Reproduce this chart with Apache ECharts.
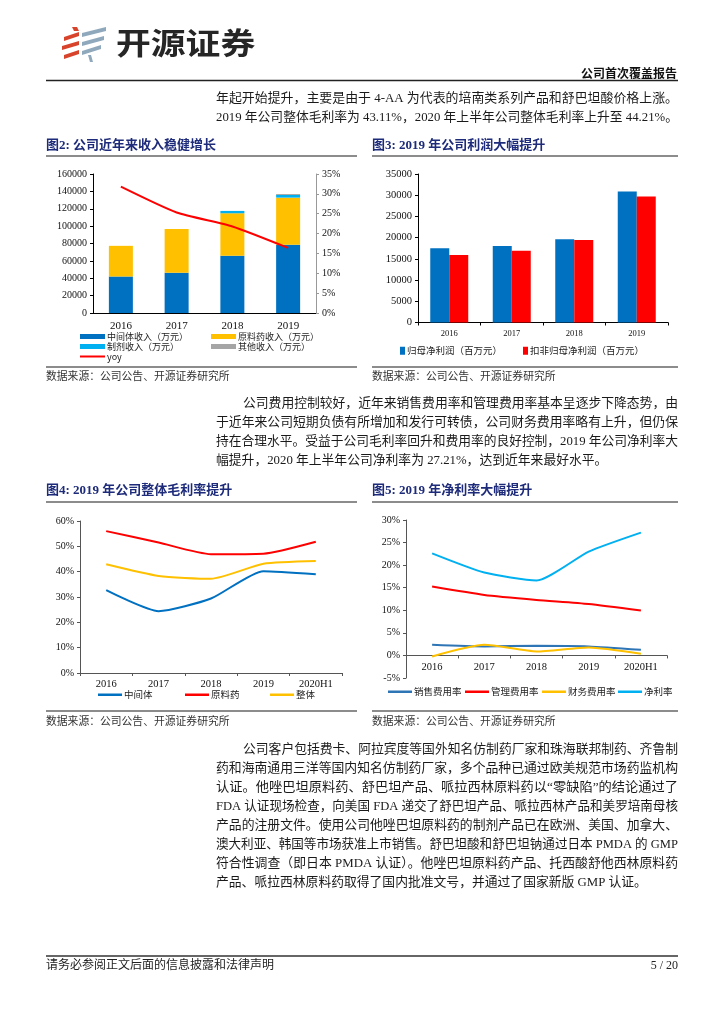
<!DOCTYPE html>
<html><head><meta charset="utf-8">
<script src="https://cdn.jsdelivr.net/npm/echarts@6/dist/echarts.min.js"></script>
<style>html,body{margin:0;padding:0;background:#fff}#c{width:724px;height:1024px}</style>
</head><body><div id="c"></div>
<script>
// ---------- data ----------
const revYears = ['2016', '2017', '2018', '2019'];
const revIntermediate = [42000, 46300, 65800, 78500];
const revAPI = [35300, 50500, 49000, 54300];
const revFormulation = [0, 0, 2700, 3100];
const revOther = [0, 0, 0, 1100];
const revYoy = [31.8, 25.3, 21.8, 16.4];

const profitYears = ['2016', '2017', '2018', '2019'];
const netProfit = [17500, 18050, 19600, 30850];
const netProfitDeducted = [15900, 16900, 19450, 29700];

const marginYears = ['2016', '2017', '2018', '2019', '2020H1'];
const marginIntermediate = [32.7, 24.4, 29.4, 40.2, 39.0];
const marginAPI = [56.0, 51.5, 46.9, 47.1, 51.8];
const marginOverall = [42.9, 38.3, 37.2, 43.11, 44.21];

const expenseYears = ['2016', '2017', '2018', '2019', '2020H1'];
const salesRate = [2.36, 2.0, 2.14, 2.0, 1.25];
const adminRate = [15.25, 13.4, 12.3, 11.4, 9.95];
const financeRate = [-0.22, 2.36, 0.88, 1.77, 0.37];
const netMargin = [22.6, 18.35, 16.6, 23.0, 27.21];

const revTicks = [0, 160000, 20000];
const revRateTicks = [0, 35, 5];
const profitTicks = [0, 35000, 5000];
const marginTicks = [0, 60, 10];
const expenseTicks = [-5, 30, 5];

const para1 = [
  '年起开始提升，主要是由于 4-AA 为代表的培南类系列产品和舒巴坦酸价格上涨。',
  '2019 年公司整体毛利率为 43.11%，2020 年上半年公司整体毛利率上升至 44.21%。'
];
const para2 = [
  '公司费用控制较好，近年来销售费用率和管理费用率基本呈逐步下降态势，由',
  '于近年来公司短期负债有所增加和发行可转债，公司财务费用率略有上升，但仍保',
  '持在合理水平。受益于公司毛利率回升和费用率的良好控制，2019 年公司净利率大',
  '幅提升，2020 年上半年公司净利率为 27.21%，达到近年来最好水平。'
];
const para3 = [
  '公司客户包括费卡、阿拉宾度等国外知名仿制药厂家和珠海联邦制药、齐鲁制',
  '药和海南通用三洋等国内知名仿制药厂家，多个品种已通过欧美规范市场药监机构',
  '认证。他唑巴坦原料药、舒巴坦产品、哌拉西林原料药以“零缺陷”的结论通过了',
  'FDA 认证现场检查，向美国 FDA 递交了舒巴坦产品、哌拉西林产品和美罗培南母核',
  '产品的注册文件。使用公司他唑巴坦原料药的制剂产品已在欧洲、美国、加拿大、',
  '澳大利亚、韩国等市场获准上市销售。舒巴坦酸和舒巴坦钠通过日本 PMDA 的 GMP',
  '符合性调查（即日本 PMDA 认证）。他唑巴坦原料药产品、托西酸舒他西林原料药',
  '产品、哌拉西林原料药取得了国内批准文号，并通过了国家新版 GMP 认证。'
];

// ---------- helpers ----------
const SERIF = "'Liberation Serif','Noto Sans CJK SC',serif";
const SANS = "'Noto Sans CJK SC','Noto Sans',sans-serif";
const C_BLUE = '#0070C0', C_YEL = '#FFC000', C_RED = '#FF0000', C_CYAN = '#00B0F0', C_GREY = '#A5A5A5';
const measureCtx = document.createElement('canvas').getContext('2d');
function textWidth(t, size, family, weight) {
  measureCtx.font = (weight || 'normal') + ' ' + size + 'px ' + family;
  return measureCtx.measureText(t).width;
}
const graphics = [];
function txt(text, x, y, o) {
  o = o || {};
  let sx = o.scaleX || 1;
  const size = o.size || 12.8, family = o.family || SERIF, weight = o.weight || 'normal';
  if (o.fitTo) sx = (o.fitTo - x) / textWidth(text, size, family, weight);
  graphics.push({type: 'text', x: x, y: y, silent: true, scaleX: sx, originX: 0,
    style: {text: text, fill: o.color || '#1a1a1a', fontSize: size,
      fontFamily: family, fontWeight: weight,
      align: o.align || 'left', verticalAlign: 'middle'}});
}
function hline(x1, x2, y, color, w) {
  graphics.push({type: 'line', silent: true, shape: {x1: x1, y1: y, x2: x2, y2: y},
    style: {stroke: color, lineWidth: w}});
}
function poly(points, color) {
  graphics.push({type: 'polygon', silent: true, shape: {points: points}, style: {fill: color}});
}
function paragraph(lines, y0, step) {
  lines.forEach((t, i) => {
    const x = i === 0 ? 243 : 216;
    const last = i === lines.length - 1;
    txt(t, x, y0 + i * step, last ? {} : {fitTo: 678});
  });
}

// logo
const LR = '#d8432c', LB = '#8fa8bc';
poly([[72,27],[77,27],[79,31],[74,31]], LR);
poly([[64,37],[79,32],[79,36],[64,41]], LR);
poly([[62,46],[79,41],[79,45],[62,50]], LR);
poly([[64,55],[79,50],[79,54],[64,59]], LR);
poly([[82,33],[106,27],[106,31],[82,37]], LB);
poly([[82,42],[104,36],[104,40],[82,46]], LB);
poly([[82,51],[101,45],[101,49],[82,55]], LB);
poly([[88,55],[91,55],[93,62],[90,62]], LB);
txt('开源证券', 116, 43, {size: 30, weight: 'bold', family: SANS, color: '#262626', scaleX: 1.16});
txt('公司首次覆盖报告', 677, 73, {size: 12, weight: 'bold', family: SANS, color: '#111', align: 'right'});
hline(46, 678, 80.5, '#222', 1.5);

// paragraphs
txt(para1[0], 216, 99, {fitTo: 678});
txt(para1[1], 216, 117.5, {fitTo: 678});
paragraph(para2, 404, 18.8);
paragraph(para3, 750, 19);

// figure titles and rules
const NAVY = '#1d2b7a';
txt('图2: 公司近年来收入稳健增长', 46, 146, {size: 13, weight: 'bold', color: NAVY});
txt('图3: 2019 年公司利润大幅提升', 372, 146, {size: 13, weight: 'bold', color: NAVY});
txt('图4: 2019 年公司整体毛利率提升', 46, 491, {size: 13, weight: 'bold', color: NAVY});
txt('图5: 2019 年净利率大幅提升', 372, 491, {size: 13, weight: 'bold', color: NAVY});
[156, 367, 502, 711].forEach(y => { hline(46, 357, y, '#8c8c8c', 2); hline(372, 678, y, '#8c8c8c', 2); });
txt('数据来源：公司公告、开源证券研究所', 46, 377, {size: 10.8, color: '#333'});
txt('数据来源：公司公告、开源证券研究所', 372, 377, {size: 10.8, color: '#333'});
txt('数据来源：公司公告、开源证券研究所', 46, 722, {size: 10.8, color: '#333'});
txt('数据来源：公司公告、开源证券研究所', 372, 722, {size: 10.8, color: '#333'});

// footer
hline(46, 678, 956, '#666', 2);
txt('请务必参阅正文后面的信息披露和法律声明', 46, 966, {size: 12, color: '#222'});
txt('5 / 20', 678, 966, {size: 12, color: '#222', align: 'right'});

// ---------- legends ----------
const legends = [];
function leg(name, x, y, w, h, size) {
  legends.push({data: [name], left: x, top: y - 7, padding: 0, itemWidth: w, itemHeight: h,
    icon: 'rect', itemGap: 0, selectedMode: false,
    textStyle: {fontSize: size, fontFamily: SANS, color: '#222', padding: [0, 0, 0, -3]}});
}
leg('中间体收入（万元）', 80, 339, 25, 5, 9);
leg('原料药收入（万元）', 211, 339, 25, 5, 9);
leg('制剂收入（万元）', 80, 349, 25, 5, 9);
leg('其他收入（万元）', 211, 349, 25, 5, 9);
leg('yoy', 80, 359, 25, 2, 9);
leg('归母净利润（百万元）', 400, 353, 5, 8, 9.5);
leg('扣非归母净利润（百万元）', 523, 353, 5, 8, 9.5);
leg('中间体', 98, 697, 24, 2.5, 9.5);
leg('原料药', 185, 697, 24, 2.5, 9.5);
leg('整体', 270, 697, 24, 2.5, 9.5);
leg('销售费用率', 388, 694, 24, 2.5, 9.5);
leg('管理费用率', 465, 694, 24, 2.5, 9.5);
leg('财务费用率', 542, 694, 24, 2.5, 9.5);
leg('净利率', 618, 694, 24, 2.5, 9.5);

// ---------- axes ----------
function catAxis(grid, data, o) {
  o = o || {};
  return {type: 'category', gridIndex: grid, data: data, boundaryGap: true, offset: o.offset || 0,
    axisLine: {show: true, onZero: false, lineStyle: {color: o.lineColor || '#000', width: 1}},
    axisTick: {show: o.tick !== false, length: 3, lineStyle: {color: o.lineColor || '#000'}},
    axisLabel: {fontFamily: SERIF, fontSize: o.size || 10.5, color: '#111', margin: o.margin || 8}};
}
function valAxis(grid, ticks, o) {
  o = o || {};
  return {type: 'value', gridIndex: grid, min: ticks[0], max: ticks[1], interval: ticks[2],
    position: o.position || 'left', splitLine: {show: false},
    axisLine: {show: true, lineStyle: {color: o.lineColor || '#000', width: 1}},
    axisTick: {show: true, length: 3, lineStyle: {color: o.lineColor || '#000'}},
    axisLabel: {fontFamily: SERIF, fontSize: o.size || 10, color: '#111', margin: o.margin || 6,
      formatter: o.pct ? (v => v + '%') : (v => String(v))}};
}

const option = {
  backgroundColor: '#fff',
  animation: false,
  graphic: graphics,
  legend: legends,
  grid: [
    {left: 93, top: 174, width: 223, height: 139},
    {left: 418, top: 174, width: 250, height: 148.5},
    {left: 80, top: 521, width: 262, height: 152},
    {left: 406, top: 520, width: 261, height: 158}
  ],
  xAxis: [
    catAxis(0, revYears, {tick: false, size: 11, margin: 8}),
    catAxis(1, profitYears, {size: 8.5, margin: 7}),
    catAxis(2, marginYears, {lineColor: '#555', size: 10.5, margin: 6}),
    catAxis(3, expenseYears, {lineColor: '#555', size: 10.5, margin: 7, offset: -158 * 5 / 35})
  ],
  yAxis: [
    valAxis(0, revTicks, {size: 10}),
    valAxis(0, revRateTicks, {position: 'right', pct: true, lineColor: '#999', size: 10}),
    valAxis(1, profitTicks, {size: 10.5}),
    valAxis(2, marginTicks, {pct: true, lineColor: '#555', size: 10}),
    valAxis(3, expenseTicks, {pct: true, lineColor: '#555', size: 10})
  ],
  series: [
    {name: '中间体收入（万元）', type: 'bar', stack: 'rev', xAxisIndex: 0, yAxisIndex: 0, barWidth: 24, color: C_BLUE, data: revIntermediate},
    {name: '原料药收入（万元）', type: 'bar', stack: 'rev', xAxisIndex: 0, yAxisIndex: 0, barWidth: 24, color: C_YEL, data: revAPI},
    {name: '制剂收入（万元）', type: 'bar', stack: 'rev', xAxisIndex: 0, yAxisIndex: 0, barWidth: 24, color: C_CYAN, data: revFormulation},
    {name: '其他收入（万元）', type: 'bar', stack: 'rev', xAxisIndex: 0, yAxisIndex: 0, barWidth: 24, color: C_GREY, data: revOther},
    {name: 'yoy', type: 'line', xAxisIndex: 0, yAxisIndex: 1, color: C_RED, symbol: 'none', smooth: 0.2,
      lineStyle: {width: 2}, data: revYoy},

    {name: '归母净利润（百万元）', type: 'bar', xAxisIndex: 1, yAxisIndex: 2, barWidth: 19, barGap: '0%', color: C_BLUE, data: netProfit},
    {name: '扣非归母净利润（百万元）', type: 'bar', xAxisIndex: 1, yAxisIndex: 2, barWidth: 19, barGap: '0%', color: C_RED, data: netProfitDeducted},

    {name: '中间体', type: 'line', xAxisIndex: 2, yAxisIndex: 3, color: C_BLUE, symbol: 'none', smooth: 0.2, lineStyle: {width: 2}, data: marginIntermediate},
    {name: '原料药', type: 'line', xAxisIndex: 2, yAxisIndex: 3, color: C_RED, symbol: 'none', smooth: 0.2, lineStyle: {width: 2}, data: marginAPI},
    {name: '整体', type: 'line', xAxisIndex: 2, yAxisIndex: 3, color: C_YEL, symbol: 'none', smooth: 0.2, lineStyle: {width: 2}, data: marginOverall},

    {name: '销售费用率', type: 'line', xAxisIndex: 3, yAxisIndex: 4, color: '#2E75B6', symbol: 'none', smooth: 0.2, lineStyle: {width: 2}, data: salesRate},
    {name: '管理费用率', type: 'line', xAxisIndex: 3, yAxisIndex: 4, color: C_RED, symbol: 'none', smooth: 0.2, lineStyle: {width: 2}, data: adminRate},
    {name: '财务费用率', type: 'line', xAxisIndex: 3, yAxisIndex: 4, color: C_YEL, symbol: 'none', smooth: 0.2, lineStyle: {width: 2}, data: financeRate},
    {name: '净利率', type: 'line', xAxisIndex: 3, yAxisIndex: 4, color: C_CYAN, symbol: 'none', smooth: 0.2, lineStyle: {width: 2}, data: netMargin}
  ]
};
const chart = echarts.init(document.getElementById('c'), null, {renderer: 'canvas'});
chart.setOption(option);
</script></body></html>
